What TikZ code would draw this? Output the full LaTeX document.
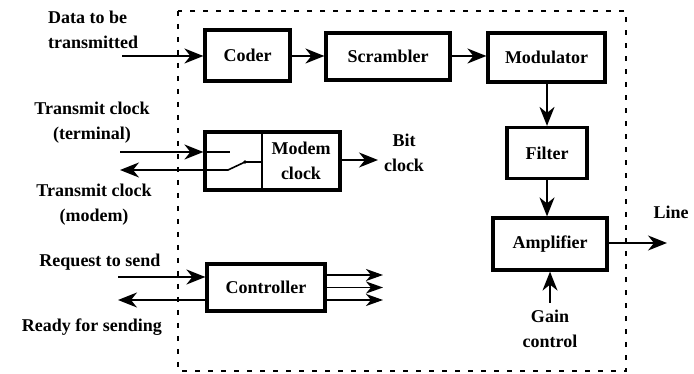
\documentclass[tikz,border=0pt]{standalone}
\usepackage{fontspec}
\setmainfont{Liberation Serif}
\usetikzlibrary{arrows.meta}
\begin{document}
\begin{tikzpicture}[x=1pt,y=-1pt,
  font=\fontsize{18}{25}\selectfont\bfseries,
  blk/.style={draw,line width=3.2pt,inner sep=0pt},
  arr/.style={line width=1.8pt,-{Stealth[length=19pt,width=15pt,inset=6pt]}},
  ln/.style={line width=1.6pt},
  lbl/.style={inner sep=0pt,align=center}]
\useasboundingbox (0,0) rectangle (694,374);
\draw[line width=2.2pt,dash pattern=on 5pt off 8pt] (178,11) rectangle (626,371);
% boxes
\node[blk,minimum width=85pt,minimum height=51pt] (coder) at (247.5,55.5) {Coder};
\node[blk,minimum width=124pt,minimum height=47pt] (scr) at (388,56.5) {Scrambler};
\node[blk,minimum width=117pt,minimum height=49pt] (mod) at (546.5,57.5) {Modulator};
\node[blk,minimum width=80pt,minimum height=51pt] (filt) at (547,153) {Filter};
\node[blk,minimum width=114pt,minimum height=52pt] (amp) at (550,244) {Amplifier};
\node[blk,minimum width=135pt,minimum height=58pt] (mc) at (272.5,161) {};
\coordinate (div) at (262,161);
\draw[line width=2.5pt] (div |- mc.north) -- (div |- mc.south);
\node[lbl] (mct) at (301,161) {Modem\\clock};
\node[blk,minimum width=118pt,minimum height=47pt] (ctl) at (266,287.5) {Controller};
% top chain
\coordinate (din) at (122,56);
\draw[arr] (din) -- (coder.west |- din);
\draw[arr] (coder.east |- din) -- (scr.west |- din);
\draw[arr] (scr.east |- din) -- (mod.west |- din);
\draw[arr] (mod.south -| filt) -- (filt.north);
\draw[arr] (filt.south) -- (amp.north -| filt);
\coordinate (lineout) at (667,243);
\draw[arr] (amp.east |- lineout) -- (lineout);
\coordinate (gain) at (550,303);
\draw[arr] (gain) -- (amp.south -| gain);
% modem clock
\coordinate (tci) at (120,152);
\coordinate (tco) at (120,170);
\coordinate (sw1) at (230,152);
\coordinate (sw2) at (228,170);
\coordinate (sw3) at (245,162);
\draw[arr] (tci) -- (mc.west |- tci);
\draw[ln] (mc.west |- tci) -- (sw1);
\draw[arr] (mc.west |- tco) -- (tco);
\draw[ln] (mc.west |- tco) -- (sw2) -- (sw3) -- (div |- sw3);
\fill (sw3) circle (1.8pt);
\coordinate (bc) at (378,160);
\draw[arr] (mc.east |- bc) -- (bc);
% controller
\coordinate (rts) at (118,277);
\coordinate (rfs) at (118,300);
\draw[arr] (rts) -- (ctl.west |- rts);
\draw[arr] (ctl.west |- rfs) -- (rfs);
\coordinate (o1) at (383,275);
\coordinate (o2) at (383,287.5);
\coordinate (o3) at (383,300);
\foreach \o in {o1,o2,o3} \draw[line width=1.8pt,-{Stealth[length=17pt,width=12pt,inset=5pt]}] (ctl.east |- \o) -- (\o);
% labels
\node[lbl,align=left,anchor=west] (ldata) at (48,30) {Data to be\\transmitted};
\node[lbl] (ltct) at (92,123) {Transmit clock\\(terminal)};
\node[lbl] (ltcm) at (94,205) {Transmit clock\\(modem)};
\node[lbl] (lrts) at (100,262) {Request to send};
\node[lbl] (lrfs) at (92,327) {Ready for sending};
\node[lbl] (lbit) at (404,153) {Bit\\clock};
\node[lbl] (lline) at (671,212) {Line};
\node[lbl] (lgain) at (550,329) {Gain\\control};
\end{tikzpicture}
\end{document}
